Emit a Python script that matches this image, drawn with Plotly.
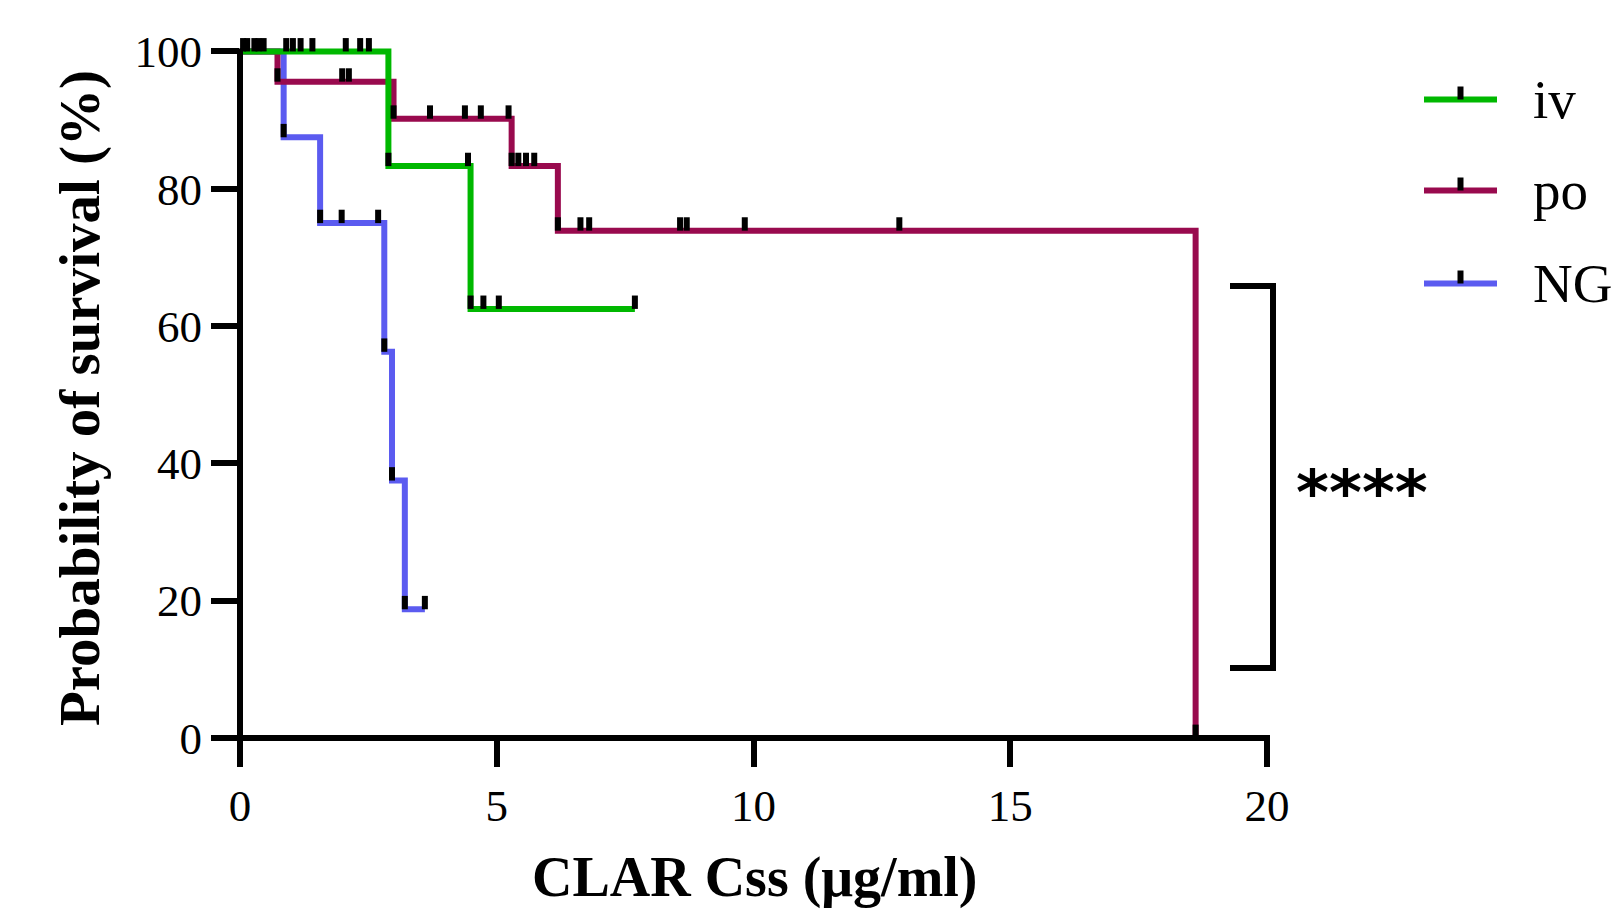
import plotly.graph_objects as go

# ---------------- data ----------------
groups = ["iv", "po", "NG"]

iv_time = [0, 2.89, 4.49, 7.69]
iv_surv = [100, 83.3, 62.5, 62.5]
iv_censor = [0.06, 0.14, 0.28, 0.36, 0.46, 0.90, 1.03, 1.18, 1.41, 2.06, 2.34,
             2.51, 2.89, 4.44, 4.49, 4.74, 5.04, 7.69]

po_time = [0, 0.73, 2.99, 5.29, 6.19, 18.61]
po_surv = [100, 95.6, 90.2, 83.3, 73.9, 0]
po_censor = [0.73, 1.99, 2.12, 2.99, 3.70, 4.38, 4.69, 5.23, 5.29, 5.42, 5.57,
             5.73, 6.19, 6.63, 6.80, 8.57, 8.70, 9.83, 12.84, 18.61]

ng_time = [0, 0.85, 1.56, 2.81, 2.96, 3.21, 3.60]
ng_surv = [100, 87.5, 75.0, 56.25, 37.5, 18.75, 18.75]
ng_censor = [0.85, 1.56, 1.98, 2.69, 2.81, 2.96, 3.21, 3.60]

x_ticks = [0, 5, 10, 15, 20]
y_ticks = [0, 20, 40, 60, 80, 100]
x_title = "CLAR Css (μg/ml)"
y_title = "Probability of survival (%)"
significance = "****"

# ---------------- styling ----------------
colors = {"iv": "#00B800", "po": "#990A4E", "NG": "#5B5BF0"}
SERIF = "Liberation Serif"
W, H = 1615, 910
ML, MR, MT, MB = 240, 348, 24, 172
PW, PH = W - ML - MR, H - MT - MB


def px_x(p):
    return (p - ML) / PW


def px_y(p):
    return (H - MB - p) / PH


def surv_at(t, times, survs):
    v = survs[0]
    for ti, si in zip(times, survs):
        if ti <= t + 1e-9:
            v = si
    return v


series = {
    "iv": (iv_time, iv_surv, iv_censor),
    "po": (po_time, po_surv, po_censor),
    "NG": (ng_time, ng_surv, ng_censor),
}

fig = go.Figure()

# step curves (drawn NG, po, iv so iv is on top)
for g in ["NG", "po", "iv"]:
    t, s, _ = series[g]
    fig.add_trace(go.Scatter(
        x=t, y=s, mode="lines", name=g,
        line=dict(color=colors[g], width=6, shape="hv"),
        showlegend=False, hoverinfo="skip",
    ))

# censor ticks (short vertical bars above the curve)
for g in ["NG", "po", "iv"]:
    t, s, c = series[g]
    fig.add_trace(go.Scatter(
        x=c, y=[surv_at(ci, t, s) for ci in c], mode="markers",
        marker=dict(size=1, color="rgba(0,0,0,0)"),
        error_y=dict(type="constant", value=1.95, valueminus=0, symmetric=False,
                     width=0, thickness=6, color="black"),
        showlegend=False, hoverinfo="skip",
    ))

shapes = []
# axis lines
shapes.append(dict(type="line", xref="paper", yref="paper",
                   x0=px_x(ML), x1=px_x(ML), y0=px_y(H - MB), y1=px_y(48.5),
                   line=dict(color="black", width=6)))
shapes.append(dict(type="line", xref="paper", yref="paper",
                   x0=px_x(ML - 3), x1=px_x(ML + PW + 3), y0=px_y(H - MB), y1=px_y(H - MB),
                   line=dict(color="black", width=6)))
# significance bracket
bx0, bx1, by0, by1 = px_x(1230), px_x(1273), px_y(286), px_y(668)
shapes.append(dict(type="path", xref="paper", yref="paper",
                   path=f"M {bx0},{by0} L {bx1},{by0} L {bx1},{by1} L {bx0},{by1}",
                   line=dict(color="black", width=6)))

annotations = []
# legend (manual)
leg_y = [99.5, 190.5, 283.5]
for g, ly in zip(groups, leg_y):
    shapes.append(dict(type="line", xref="paper", yref="paper",
                       x0=px_x(1424), x1=px_x(1497), y0=px_y(ly), y1=px_y(ly),
                       line=dict(color=colors[g], width=6)))
    shapes.append(dict(type="line", xref="paper", yref="paper",
                       x0=px_x(1460.5), x1=px_x(1460.5), y0=px_y(ly), y1=px_y(ly - 13),
                       line=dict(color="black", width=6)))
    annotations.append(dict(xref="paper", yref="paper", x=px_x(1531), y=px_y(ly),
                            xanchor="left", yanchor="middle", showarrow=False,
                            text=g, font=dict(family=SERIF, size=55, color="black")))

annotations.append(dict(xref="paper", yref="paper", x=px_x(1362), y=px_y(492),
                        xanchor="center", yanchor="middle", showarrow=False,
                        text=f"<b>{significance}</b>",
                        font=dict(family="DejaVu Sans", size=63, color="black")))
annotations.append(dict(xref="paper", yref="paper", x=px_x(80), y=px_y(398),
                        xanchor="center", yanchor="middle", showarrow=False,
                        textangle=-90, text=f"<b>{y_title}</b>",
                        font=dict(family=SERIF, size=57, color="black")))
annotations.append(dict(xref="paper", yref="paper", x=px_x(755), y=px_y(877),
                        xanchor="center", yanchor="middle", showarrow=False,
                        text=f"<b>{x_title}</b>",
                        font=dict(family=SERIF, size=56, color="black")))

fig.update_layout(
    width=W, height=H,
    margin=dict(l=ML, r=MR, t=MT, b=MB, pad=0),
    paper_bgcolor="white", plot_bgcolor="white",
    showlegend=False,
    shapes=shapes, annotations=annotations,
    xaxis=dict(range=[0, 20], tickvals=x_ticks, ticks="outside", ticklen=28,
               tickwidth=6, tickcolor="black", showline=False, showgrid=False,
               zeroline=False, automargin=False,
               tickfont=dict(family=SERIF, size=45, color="black")),
    yaxis=dict(range=[0, 104], tickvals=y_ticks, ticks="outside", ticklen=28,
               tickwidth=6, tickcolor="black", showline=False, showgrid=False,
               zeroline=False, automargin=False,
               tickfont=dict(family=SERIF, size=45, color="black")),
)

fig.write_html("out.html")
